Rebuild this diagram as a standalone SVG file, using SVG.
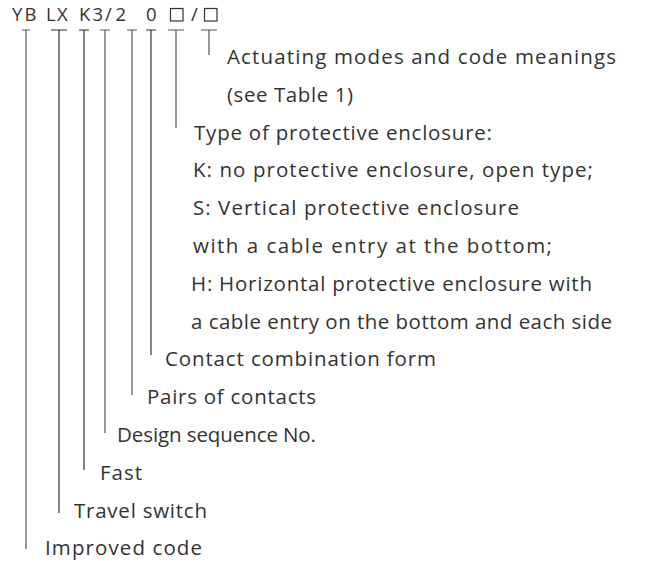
<svg xmlns="http://www.w3.org/2000/svg" width="647" height="563" viewBox="0 0 647 563">
<style>
.t{font-family:"Open Sans","Noto Sans","Liberation Sans",sans-serif;font-size:20.5px;fill:#333}
.code{font-family:"Open Sans","Noto Sans","Liberation Sans",sans-serif;font-size:18.5px;fill:#333}
.ln{stroke:#555;stroke-width:1.2;fill:none}
.dk{stroke:#333}
.box{fill:none;stroke:#333;stroke-width:1.2}
</style>
<rect width="647" height="563" fill="#fff"/>
<g id="code">
<text class="code" x="12 24.5 46 57 79 92.5 105 115.5 146" y="21">YBLXK3/20</text>
<text class="code" x="191" y="21">/</text>
<rect class="box" x="170.5" y="8.5" width="12.5" height="12.5"/>
<rect class="box" x="204.5" y="8.5" width="12.5" height="12.5"/>
</g>
<g id="connectors">
<path class="ln" d="M22 30H30M26 30V549"/>
<path class="ln dk" d="M51 30H67M59 30V513"/>
<path class="ln dk" d="M79 30H89M84 30V470"/>
<path class="ln" d="M100 30H110M105 30V433"/>
<path class="ln" d="M127 30H137M132 30V395"/>
<path class="ln dk" d="M146 30H156M151 30V355"/>
<path class="ln" d="M168 30H184M176 30V128"/>
<path class="ln" d="M201 30H217M209 30V55"/>
</g>
<g id="n-actuating">
<text class="t" x="227" y="64" textLength="389" lengthAdjust="spacing">Actuating modes and code meanings</text>
<text class="t" x="227" y="102" textLength="126" lengthAdjust="spacing">(see Table 1)</text>
</g>
<g id="n-enclosure">
<text class="t" x="194" y="140" textLength="298" lengthAdjust="spacing">Type of protective enclosure:</text>
<text class="t" x="193" y="177" textLength="400" lengthAdjust="spacing">K: no protective enclosure, open type;</text>
<text class="t" x="193" y="215" textLength="326" lengthAdjust="spacing">S: Vertical protective enclosure</text>
<text class="t" x="193" y="253" textLength="359" lengthAdjust="spacing">with a cable entry at the bottom;</text>
<text class="t" x="191" y="291" textLength="401" lengthAdjust="spacing">H: Horizontal protective enclosure with</text>
<text class="t" x="191" y="329" textLength="421" lengthAdjust="spacing">a cable entry on the bottom and each side</text>
</g>
<g id="n-contact"><text class="t" x="165" y="366" textLength="271" lengthAdjust="spacing">Contact combination form</text></g>
<g id="n-pairs"><text class="t" x="147" y="404" textLength="169" lengthAdjust="spacing">Pairs of contacts</text></g>
<g id="n-design"><text class="t" x="117" y="442" textLength="199" lengthAdjust="spacing">Design sequence No.</text></g>
<g id="n-fast"><text class="t" x="100" y="480" textLength="42" lengthAdjust="spacing">Fast</text></g>
<g id="n-travel"><text class="t" x="74" y="518" textLength="133" lengthAdjust="spacing">Travel switch</text></g>
<g id="n-improved"><text class="t" x="45" y="555" textLength="157" lengthAdjust="spacing">Improved code</text></g>
</svg>
